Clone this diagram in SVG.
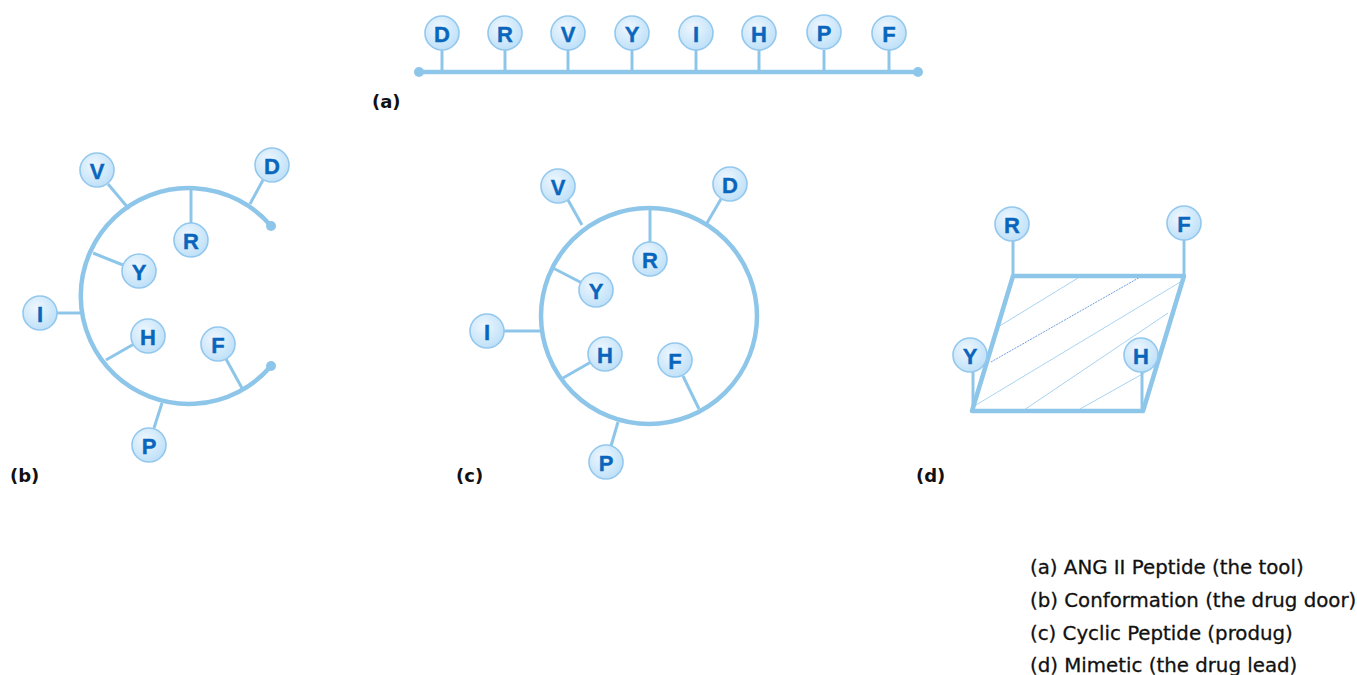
<svg xmlns="http://www.w3.org/2000/svg" width="1357" height="675" viewBox="0 0 1357 675">
<defs>
<radialGradient id="ng" cx="0.4" cy="0.35" r="0.7">
<stop offset="0" stop-color="#eef7fe"/>
<stop offset="1" stop-color="#bcdff8"/>
</radialGradient>
<style>
.bb{fill:none;stroke:#8ec6ea;stroke-width:4.5;stroke-linecap:round}
.st{stroke:#8ec6ea;stroke-width:3;fill:none}
.nd circle{fill:url(#ng);stroke:#93c8ee;stroke-width:1.6}
.nd text{font-family:"Liberation Sans",Arial,sans-serif;font-weight:bold;font-size:22px;fill:#0a66bd;stroke:#0a66bd;stroke-width:0.4;text-anchor:middle;dominant-baseline:central}
.lab{font-family:"DejaVu Sans",sans-serif;font-weight:bold;font-size:18px;fill:#111}
.leg{font-family:"DejaVu Sans",sans-serif;font-size:19.8px;fill:#111;stroke:#111;stroke-width:0.3}
.hat{stroke:#a9d3f1;stroke-width:1;fill:none}
.dot{fill:#8ec6ea}
</style>
</defs>
<rect width="1357" height="675" fill="#fff"/>

<!-- backbones -->
<g id="backbones">
<line class="bb" x1="419" y1="72" x2="918" y2="72"/>
<circle class="dot" cx="419" cy="72" r="5"/>
<circle class="dot" cx="918" cy="72" r="5"/>
<path class="bb" d="M 271 226 A 108 108 0 1 0 271 366"/>
<circle class="dot" cx="271" cy="226" r="5"/>
<circle class="dot" cx="271" cy="366" r="5"/>
<circle class="bb" cx="649" cy="316" r="108"/>
<g id="mimetic">
<line class="hat" x1="998" y1="327" x2="1078" y2="278"/>
<line x1="991" y1="362" x2="1142" y2="276" stroke="#6f9fdc" stroke-width="1" stroke-dasharray="2 1"/>
<line class="hat" x1="976" y1="405" x2="1182" y2="281"/>
<line class="hat" x1="1024" y1="410" x2="1168" y2="313"/>
<line class="hat" x1="1080" y1="409" x2="1146" y2="372"/>
<polygon points="1013,276 1184,276 1143,411 972,411" fill="none" stroke="#8ec6ea" stroke-width="4.5" stroke-linejoin="round"/>
</g>
</g>

<!-- connectors (stems) -->
<g id="connectors">
<line class="st" x1="442" y1="50" x2="442" y2="72"/>
<line class="st" x1="505" y1="50" x2="505" y2="72"/>
<line class="st" x1="568" y1="50" x2="568" y2="72"/>
<line class="st" x1="632" y1="50" x2="632" y2="72"/>
<line class="st" x1="696" y1="50" x2="696" y2="72"/>
<line class="st" x1="759" y1="50" x2="759" y2="72"/>
<line class="st" x1="824" y1="50" x2="824" y2="72"/>
<line class="st" x1="889" y1="50" x2="889" y2="72"/>

<line class="st" x1="108" y1="184" x2="129" y2="209"/>
<line class="st" x1="263" y1="180" x2="250" y2="204"/>
<line class="st" x1="191" y1="188" x2="191" y2="223"/>
<line class="st" x1="93" y1="253" x2="123" y2="265"/>
<line class="st" x1="57" y1="313" x2="83" y2="313"/>
<line class="st" x1="106" y1="360" x2="134" y2="344"/>
<line class="st" x1="226" y1="359" x2="243" y2="390"/>
<line class="st" x1="162" y1="403" x2="154" y2="428"/>

<line class="st" x1="568" y1="200" x2="582" y2="225"/>
<line class="st" x1="721" y1="199" x2="707" y2="223"/>
<line class="st" x1="650" y1="208" x2="650" y2="242"/>
<line class="st" x1="553" y1="268" x2="582" y2="283"/>
<line class="st" x1="504" y1="331" x2="541" y2="331"/>
<line class="st" x1="563" y1="378" x2="591" y2="362"/>
<line class="st" x1="683" y1="376" x2="699" y2="409"/>
<line class="st" x1="618" y1="422" x2="611" y2="446"/>

<line class="st" x1="1013" y1="241" x2="1013" y2="276"/>
<line class="st" x1="1184" y1="240" x2="1184" y2="276"/>
<line class="st" x1="973" y1="371" x2="973" y2="411"/>
<line class="st" x1="1142" y1="371" x2="1142" y2="411"/>
</g>

<!-- (a) nodes -->
<g id="a-D" class="nd"><circle cx="442" cy="33" r="17"/><text x="442" y="34">D</text></g>
<g id="a-R" class="nd"><circle cx="505" cy="33" r="17"/><text x="505" y="34">R</text></g>
<g id="a-V" class="nd"><circle cx="568" cy="33" r="17"/><text x="568" y="34">V</text></g>
<g id="a-Y" class="nd"><circle cx="632" cy="33" r="17"/><text x="632" y="34">Y</text></g>
<g id="a-I" class="nd"><circle cx="696" cy="33" r="17"/><text x="696" y="34">I</text></g>
<g id="a-H" class="nd"><circle cx="759" cy="33" r="17"/><text x="759" y="34">H</text></g>
<g id="a-P" class="nd"><circle cx="824" cy="32" r="17"/><text x="824" y="33">P</text></g>
<g id="a-F" class="nd"><circle cx="889" cy="33" r="17"/><text x="889" y="34">F</text></g>

<!-- (b) nodes -->
<g id="b-V" class="nd"><circle cx="97" cy="170" r="17"/><text x="97" y="171">V</text></g>
<g id="b-D" class="nd"><circle cx="272" cy="165" r="17"/><text x="272" y="166">D</text></g>
<g id="b-R" class="nd"><circle cx="191" cy="240" r="17"/><text x="191" y="241">R</text></g>
<g id="b-Y" class="nd"><circle cx="139" cy="271" r="17"/><text x="139" y="272">Y</text></g>
<g id="b-I" class="nd"><circle cx="40" cy="313" r="17"/><text x="40" y="314">I</text></g>
<g id="b-H" class="nd"><circle cx="148" cy="336" r="17"/><text x="148" y="337">H</text></g>
<g id="b-F" class="nd"><circle cx="218" cy="344" r="17"/><text x="218" y="345">F</text></g>
<g id="b-P" class="nd"><circle cx="149" cy="445" r="17"/><text x="149" y="446">P</text></g>

<!-- (c) nodes -->
<g id="c-V" class="nd"><circle cx="558" cy="186" r="17"/><text x="558" y="187">V</text></g>
<g id="c-D" class="nd"><circle cx="730" cy="184" r="17"/><text x="730" y="185">D</text></g>
<g id="c-R" class="nd"><circle cx="650" cy="259" r="17"/><text x="650" y="260">R</text></g>
<g id="c-Y" class="nd"><circle cx="596" cy="290" r="17"/><text x="596" y="291">Y</text></g>
<g id="c-I" class="nd"><circle cx="487" cy="331" r="17"/><text x="487" y="332">I</text></g>
<g id="c-H" class="nd"><circle cx="605" cy="354" r="17"/><text x="605" y="355">H</text></g>
<g id="c-F" class="nd"><circle cx="675" cy="360" r="17"/><text x="675" y="361">F</text></g>
<g id="c-P" class="nd"><circle cx="606" cy="462" r="17"/><text x="606" y="463">P</text></g>

<!-- (d) nodes -->
<g id="d-R" class="nd"><circle cx="1012" cy="224" r="17"/><text x="1012" y="225">R</text></g>
<g id="d-F" class="nd"><circle cx="1184" cy="223" r="17"/><text x="1184" y="224">F</text></g>
<g id="d-Y" class="nd"><circle cx="970" cy="355" r="17"/><text x="970" y="356">Y</text></g>
<g id="d-H" class="nd"><circle cx="1141" cy="355" r="17"/><text x="1141" y="356">H</text></g>

<!-- panel labels -->
<g id="labels">
<text class="lab" x="372" y="108">(a)</text>
<text class="lab" x="10" y="482">(b)</text>
<text class="lab" x="456" y="482">(c)</text>
<text class="lab" x="916" y="482">(d)</text>
</g>

<!-- legend -->
<g id="legend">
<text class="leg" x="1030" y="574">(a) ANG II Peptide (the tool)</text>
<text class="leg" x="1030" y="607">(b) Conformation (the drug door)</text>
<text class="leg" x="1030" y="640">(c) Cyclic Peptide (produg)</text>
<text class="leg" x="1030" y="672">(d) Mimetic (the drug lead)</text>
</g>
</svg>
